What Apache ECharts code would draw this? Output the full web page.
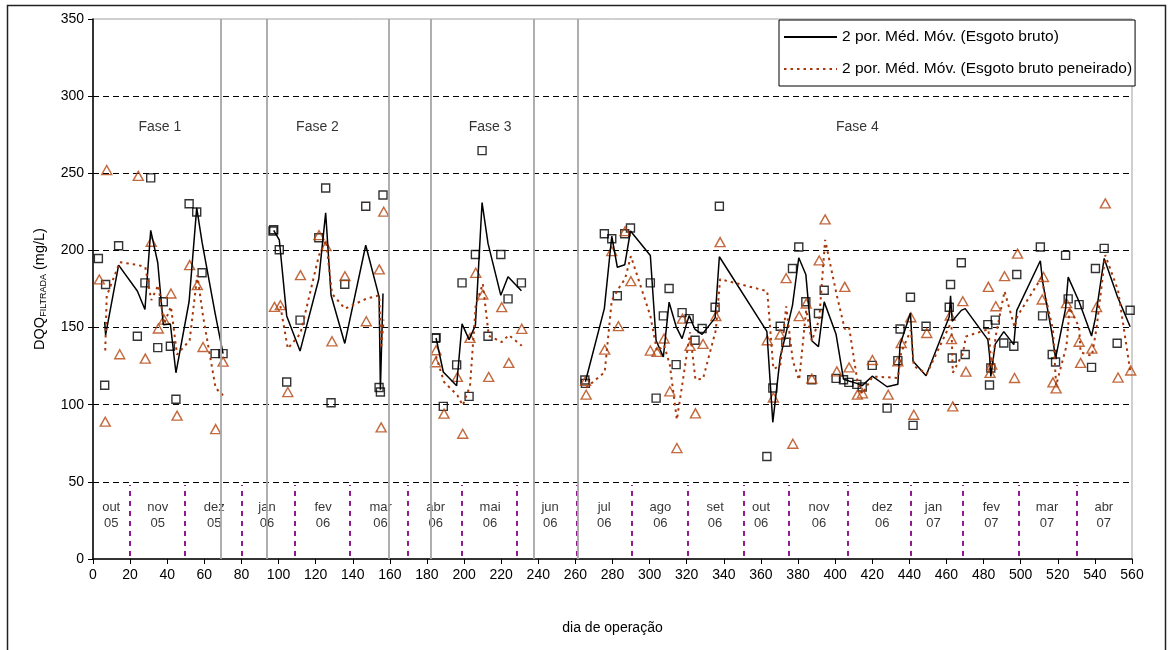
<!DOCTYPE html>
<html>
<head>
<meta charset="utf-8">
<script src="https://cdn.jsdelivr.net/npm/echarts@6/dist/echarts.min.js"></script>
<style>
html,body{margin:0;padding:0;background:#fff;}
#chart{width:1173px;height:650px;}
</style>
</head>
<body>
<div id="chart"></div>
<script>
// ---- Data: [dia de operação, DQQ filtrada (mg/L)] ----
// Esgoto bruto (squares)
const brutoFase1 = [[2.9,194.8],[6.3,112.6],[6.8,177.9],[13.8,203],[23.9,144.4],[28,179],[31.1,247],[34.9,137],[37.9,166.7],[41.7,137.9],[44.7,103.5],[51.8,230.3],[55.9,224.9],[58.8,185.5],[65.8,133.1],[70.1,133.1]];
const brutoFase2 = [[97.0,212.6],[97.4,213.4],[100.4,200.4],[104.4,114.7],[111.6,154.8],[121.7,208.2],[125.4,240.5],[128.3,101.3],[135.7,178.1],[147,228.6],[154.2,111.2],[154.9,108.2],[156.3,235.9]];
const brutoFase3 = [[184.6,143],[184.9,143.5],[188.8,98.9],[196,125.8],[198.9,179],[202.7,105.4],[206.1,197.4],[209.7,264.7],[212.9,144.4],[219.8,197.4],[223.7,168.6],[230.9,179]];
const brutoFase4 = [[265.1,116],[265.4,113.8],[275.6,210.8],[279.6,207.6],[282.6,170.6],[286.6,210.8],[289.7,214.5],[300.4,179],[303.5,104.3],[307.4,157.6],[310.5,175.3],[314.3,126],[317.5,159.7],[321.3,155.8],[324.5,141.8],[328.3,149.4],[335.3,163.2],[337.6,228.6],[363.2,66.4],[366.4,110.8],[370.4,150.9],[373.4,140.5],[377,188.3],[380.4,202.2],[384.2,166.7],[387.4,116.2],[391,159.1],[394.1,174.2],[400.5,117.1],[404.5,116.2],[407.4,114.5],[411.7,113.2],[414.6,111.5],[420,125.5],[428,97.8],[433.8,128.6],[435,149.1],[440.6,169.7],[442,86.6],[449,150.9],[461.5,163.2],[462.2,177.9],[463.1,130.3],[468,192],[470.1,132.5],[482.3,151.9],[483.2,112.8],[483.9,123.8],[486.3,154.8],[490.9,140],[496.3,137.9],[497.9,184.4],[510.6,202.2],[511.8,157.6],[517,132.5],[518.8,127.7],[524.2,196.8],[525.6,168.6],[531.5,164.9],[538.2,124.2],[540.3,188.3],[545,201.3],[552,139.8],[559,161.2]];
// Esgoto bruto peneirado (triangles)
const peneiradoFase1 = [[3.4,181.2],[6.6,89],[7.4,252.1],[14.4,132.7],[24.4,248.3],[28.2,129.9],[31.4,205.6],[35.2,149.4],[38.3,155.2],[42,172.1],[45.3,92.9],[52.1,190.5],[56.2,177.5],[59.3,137.4],[66.1,84.2],[70.1,127.9]];
const peneiradoFase2 = [[97.8,163.4],[101,164.5],[105,108.2],[111.8,184],[121.8,209.9],[125.6,202.8],[128.8,141.1],[135.8,183.3],[147.3,154.1],[154.3,187.7],[155.3,85.3],[156.7,225.1]];
const peneiradoFase3 = [[184.6,127.5],[184.9,135.3],[189.2,94.2],[196.4,118],[199.3,81.2],[203.2,143.3],[206.3,185.5],[210.1,171.4],[213.3,118],[220.3,163.2],[224.1,127.1],[231.1,149.2]];
const peneiradoFase4 = [[265.5,115.5],[265.8,106.5],[275.8,135.7],[279.6,199.5],[283.2,150.9],[286.8,212.5],[289.9,180.1],[300.4,135.1],[304,134.2],[307.8,142.9],[310.9,108.7],[314.7,71.9],[317.7,155.8],[321.8,138.1],[324.7,94.4],[328.8,139.4],[335.7,157.4],[338,205.4],[363.4,141.8],[366.7,104.7],[370.4,145.5],[373.6,182],[377.2,74.7],[380.6,157.4],[384.4,165.6],[387.4,116.9],[391.4,193.5],[394.6,220.1],[400.9,121.6],[405.2,176.4],[407.5,124.2],[412,106.5],[414.7,107.4],[420.1,129],[428.6,106.5],[433.8,128.1],[435.6,140],[440.8,156.7],[442.4,93.5],[449.4,146.5],[462,157.8],[462.7,142.5],[463.4,98.9],[468.8,167.1],[470.5,121.4],[482.6,176.4],[483.5,120.6],[484.4,126],[486.6,163.8],[491.3,183.3],[496.7,117.3],[498.3,197.9],[511.6,168.2],[512.3,182.8],[517.4,114.5],[519.1,110.6],[524.7,165.8],[526.4,159.7],[531.5,140.8],[532.3,127.1],[538.4,136.3],[540.9,163.3],[545.6,230.5],[552.5,117.6],[559.3,122.2]];

// Labels and divisions
const phaseNames = ['Fase 1','Fase 2','Fase 3','Fase 4'];
const phaseLabelDays = [36, 121, 214, 412];
const phaseBoundaryDays = [69, 93.5, 159.5, 182, 237.5, 261.5];
const monthNames = ['out\n05','nov\n05','dez\n05','jan\n06','fev\n06','mar\n06','abr\n06','mai\n06','jun\n06','jul\n06','ago\n06','set\n06','out\n06','nov\n06','dez\n06','jan\n07','fev\n07','mar\n07','abr\n07'];
const monthLabelDays = [9.8, 34.9, 65.4, 93.8, 124, 155, 184.7, 214, 246.4, 275.5, 305.8, 335.3, 360.1, 391.3, 425.4, 453, 484.2, 514.2, 544.8];
const monthBoundaryDays = [20, 49.5, 80, 108.5, 138.5, 169.5, 199, 228.5, 261, 290.5, 320.5, 350.5, 375, 407, 441, 469, 499, 530];

const nameBruto = '2 por. Méd. Móv. (Esgoto bruto)';
const namePen = '2 por. Méd. Móv. (Esgoto bruto peneirado)';

// Excel-style 2-period moving average trendline
function movingAvg2(pts){
  return pts.slice(1).map((p,i)=>[p[0],(pts[i][1]+p[1])/2]);
}

const FONT = 'Liberation Sans, Arial, sans-serif';
const BROWN = '#b4440e';
const DOT = '#a8380a';

const brutoPhases = [brutoFase1, brutoFase2, brutoFase3, brutoFase4];
const penPhases = [peneiradoFase1, peneiradoFase2, peneiradoFase3, peneiradoFase4];

const series = [];
brutoPhases.forEach(ph=>{
  series.push({type:'scatter', name:'Esgoto bruto', data:ph, symbol:'rect', symbolSize:8,
    itemStyle:{color:'rgba(255,255,255,0)', borderColor:'#000', borderWidth:1.4}, z:3, silent:true});
});
penPhases.forEach(ph=>{
  series.push({type:'scatter', name:'Esgoto bruto peneirado', data:ph, symbol:'triangle', symbolSize:[10,9],
    itemStyle:{color:'rgba(255,255,255,0)', borderColor:BROWN, borderWidth:1.4}, z:3, silent:true});
});
brutoPhases.forEach(ph=>{
  series.push({type:'line', name:nameBruto, data:movingAvg2(ph), symbol:'none', itemStyle:{color:'#000'},
    lineStyle:{color:'#000', width:1.5, type:'solid'}, z:4, silent:true});
});
penPhases.forEach(ph=>{
  series.push({type:'line', name:namePen, data:movingAvg2(ph), symbol:'none', itemStyle:{color:DOT},
    lineStyle:{color:DOT, width:2, type:[2.5,4]}, z:4, silent:true});
});

// month labels
series.push({type:'scatter', name:'meses', silent:true, symbolSize:0,
  data: monthLabelDays.map((d,i)=>({value:[d,28.5], label:{formatter:monthNames[i]}})),
  label:{show:true, position:'inside', color:'#000', fontSize:13, lineHeight:16, fontFamily:FONT, align:'center'},
  markLine:{silent:true, symbol:['none','none'], label:{show:false}, animation:false,
    lineStyle:{color:'#8e1a8e', width:2, type:[5,5]},
    data: monthBoundaryDays.map(d=>[{coord:[d,2]},{coord:[d,48]}])}
});
// phase labels and boundaries
series.push({type:'scatter', name:'fases', silent:true, symbolSize:0,
  data: phaseLabelDays.map((d,i)=>({value:[d,280], label:{formatter:phaseNames[i]}})),
  label:{show:true, position:'inside', color:'#000', fontSize:14, fontFamily:FONT},
  markLine:{silent:true, symbol:['none','none'], label:{show:false}, animation:false,
    lineStyle:{color:'#a6a6a6', width:1.8, type:'solid'},
    data: phaseBoundaryDays.map(d=>[{coord:[d,0]},{coord:[d,350]}])}
});

const chart = echarts.init(document.getElementById('chart'), null, {renderer:'canvas'});
chart.setOption({
  animation:false,
  backgroundColor:'#fff',
  textStyle:{fontFamily:FONT},
  grid:{left:93, right:41, top:19, bottom:91, show:true, borderColor:'#a0a0a0', borderWidth:1, backgroundColor:'transparent'},
  legend:{
    data:[nameBruto, namePen], orient:'vertical', left:779, top:20,
    itemWidth:53, itemHeight:14, itemGap:16, padding:[9,3,9,4],
    borderColor:'#000', borderWidth:1, backgroundColor:'#fff',
    itemStyle:{opacity:0, borderWidth:0},
    textStyle:{fontSize:15.5, color:'#000', fontFamily:FONT}, selectedMode:false
  },
  xAxis:{type:'value', min:0, max:560, interval:20,
    name:'dia de operação', nameLocation:'middle', nameGap:62,
    nameTextStyle:{fontSize:14, color:'#000', fontFamily:FONT},
    axisLine:{onZero:false, lineStyle:{color:'#000', width:1.5}},
    axisTick:{show:true, length:5, lineStyle:{color:'#000'}},
    axisLabel:{fontSize:14, color:'#000', margin:9, fontFamily:FONT},
    splitLine:{show:false}},
  yAxis:{type:'value', min:0, max:350, interval:50,
    name:'{a|DQQ}{b|FILTRADA}{a| (mg/L)}', nameLocation:'middle', nameGap:45, nameRotate:90,
    nameTextStyle:{rich:{a:{fontSize:14.5, color:'#000', fontFamily:FONT}, b:{fontSize:9, color:'#000', fontFamily:FONT, padding:[8,0,0,0]}}},
    axisLine:{onZero:false, lineStyle:{color:'#000', width:1.5}},
    axisTick:{show:true, length:5, lineStyle:{color:'#000'}},
    axisLabel:{fontSize:14, color:'#000', margin:9, fontFamily:FONT},
    splitLine:{show:true, showMinLine:false, showMaxLine:false, lineStyle:{color:'#000', width:1, type:[6,4]}}},
  graphic:[{type:'rect', silent:true, z:100, shape:{x:7.5, y:5.5, width:1158, height:700},
    style:{fill:'none', stroke:'#222', lineWidth:1.5}}],
  series: series
});
</script>
</body>
</html>
